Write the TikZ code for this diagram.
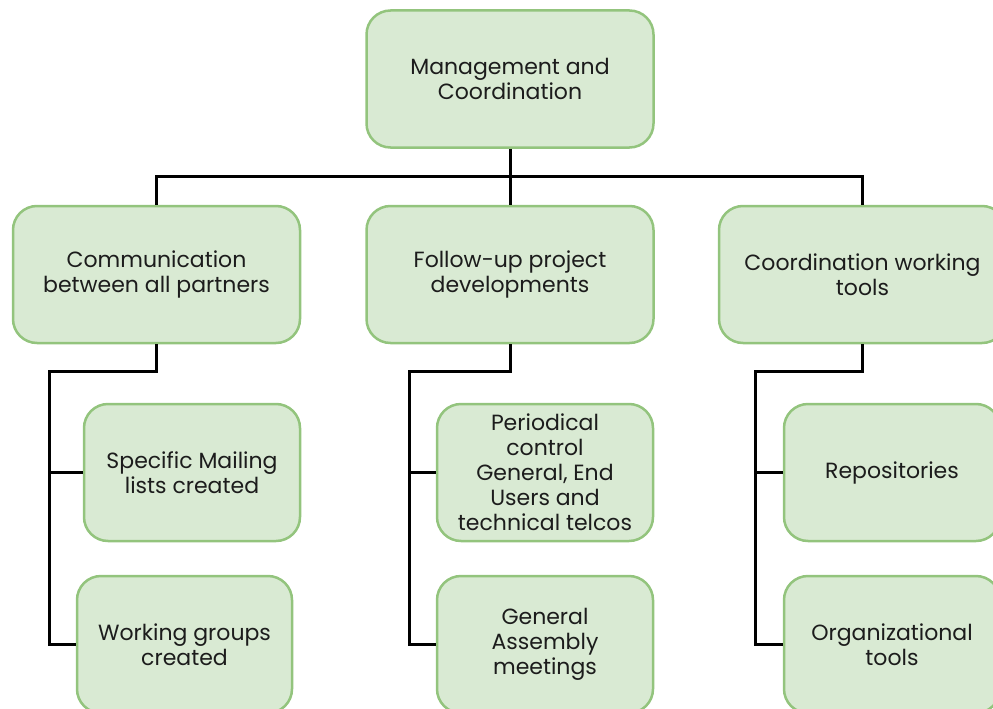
\documentclass[tikz,border=0pt]{standalone}
\usepackage{fontspec}
\setmainfont{Poppins}
\definecolor{boxfill}{HTML}{D9EAD3}
\definecolor{boxline}{HTML}{93C47D}
\definecolor{txt}{HTML}{1C1C1C}
\begin{document}
\begin{tikzpicture}[x=1pt,y=-1pt,
  box/.style={draw=boxline,fill=boxfill,line width=2.5pt,rounded corners=24pt,
    minimum height=137pt,inner sep=0pt,align=center,text=txt,
    font=\fontsize{22}{25}\selectfont},
  wide/.style={box,minimum width=287pt},
  narrow/.style={box,minimum width=216pt},
  link/.style={line width=3pt,draw=black}]
\useasboundingbox (0,0) rectangle (993,709);
\clip (0,0) rectangle (993,709);
% nodes
\node[wide] (top) at (510,79) {Management and\\Coordination};
\node[wide] (comm) at (156.5,274.5) {Communication\\between all partners};
\node[wide] (follow) at (510,274.5) {Follow-up project\\developments};
\node[wide] (coord) at (862.5,274.5) {Coordination working\\tools};
\node[narrow] (mail) at (192,472.5) {Specific Mailing\\lists created};
\node[narrow,minimum width=215pt] (work) at (184.5,644.5) {Working groups\\created};
\node[narrow] (period) at (545,472.5) {Periodical\\control\\General, End\\Users and\\technical telcos};
\node[narrow] (ga) at (545,644.5) {General\\Assembly\\meetings};
\node[narrow] (repo) at (892,472.5) {Repositories};
\node[narrow] (org) at (892,644.5) {Organizational\\tools};
% junctions
\coordinate (j0) at (510,176);
\coordinate (jc) at (49,371);
\coordinate (jf) at (409,371);
\coordinate (jk) at (755,371);
% connectors
\draw[link] (top.south) -- (j0);
\draw[link] (comm.north) |- (j0) -| (coord.north);
\draw[link] (j0) -- (follow.north);
\draw[link] (comm.south) |- (jc) |- (work.west);
\draw[link] (jc) |- (mail.west);
\draw[link] (follow.south) |- (jf) |- (ga.west);
\draw[link] (jf) |- (period.west);
\draw[link] (coord.south) |- (jk) |- (org.west);
\draw[link] (jk) |- (repo.west);
\end{tikzpicture}
\end{document}
